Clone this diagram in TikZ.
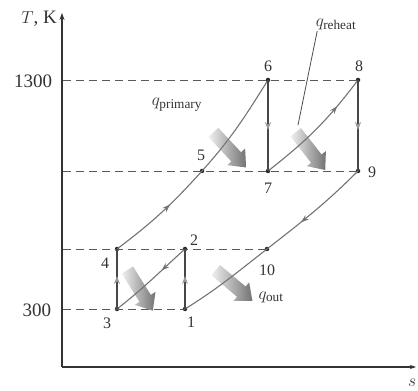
\documentclass[tikz,border=0pt]{standalone}
\usepackage{fontspec}
\setmainfont{Liberation Serif}
\usetikzlibrary{arrows.meta,decorations.markings,shapes.arrows}
\begin{document}
\begin{tikzpicture}[x=1pt,y=1pt,
 pt/.style={circle,fill=black!85,inner sep=0pt,minimum size=4.5pt},
 lbl/.style={font=\fontsize{16}{18}\selectfont,text=black!80},
 axl/.style={font=\fontsize{19}{21}\selectfont,text=black!80},
 dsh/.style={dash pattern=on 8pt off 5pt, draw=black!65, line width=0.8pt},
 proc/.style={draw=black!55, line width=1.1pt},
 vproc/.style={draw=black!72, line width=1.1pt},
 midarr/.style={postaction={decorate},decoration={markings,mark=at position #1 with {\arrow{Stealth[length=8pt,width=5.5pt]}}}},
 vmidarr/.style={postaction={decorate},decoration={markings,mark=at position #1 with {\arrow[black!40]{Stealth[length=8pt,width=6pt]}}}},
 bigarr/.style={single arrow, draw=none, minimum height=48pt, inner xsep=0pt, inner ysep=6.5pt, single arrow head extend=5.5pt, single arrow tip angle=80, left color=black!6, right color=black!55}
]
\useasboundingbox (0,0) rectangle (418,391);
% axes
\coordinate (O) at (62,24);
\coordinate (Ytop) at (62,378);
\coordinate (Xend) at (416,24);
\draw[line width=1.2pt, black!80, -{Stealth[length=7pt,width=5pt]}] (O) -- (Ytop);
\draw[line width=1.2pt, black!80, -{Stealth[length=6pt,width=4pt]}] (O) -- (Xend);
\node[axl] (lT) at (39,372) {$T$, K};
\node[axl] (ls) at (412,8) {$s$};
\node[axl] (l1300) at (33,310) {1300};
\node[axl] (l300) at (37,81) {300};
% axis anchors for dashed lines
\coordinate (a1) at (63,311);
\coordinate (a2) at (63,220);
\coordinate (a3) at (63,142);
\coordinate (a4) at (63,82);
% state points
\node[pt] (p1) at (185,82) {};
\node[pt] (p2) at (185,142) {};
\node[pt] (p3) at (117,82) {};
\node[pt] (p4) at (117,142) {};
\node[pt] (p5) at (202,220) {};
\node[pt] (p6) at (268,311) {};
\node[pt] (p7) at (268,220) {};
\node[pt] (p8) at (358,311) {};
\node[pt] (p9) at (358,220) {};
\node[pt] (p10) at (267,142) {};
% dashed lines
\draw[dsh] (a1) -- (p8.center);
\draw[dsh] (a2) -- (p9.center);
\draw[dsh] (a3) -- (p10.center);
\draw[dsh] (a4) -- (p1.center);
% big heat arrows
\node[bigarr, rotate=-47] (hp) at (227,244) {};
\node[bigarr, rotate=-52] (hr) at (308,243) {};
\node[bigarr, rotate=-58] (hl) at (138,104) {};
\node[bigarr, rotate=-40] (ho) at (231,108) {};
% processes
\draw[proc, midarr=0.6] (p4.center) to[out=37,in=228] (p5.center);
\draw[proc] (p5.center) to[out=48,in=238] (p6.center);
\draw[proc, midarr=0.74] (p7.center) to[out=38,in=233] (p8.center);
\draw[proc, midarr=0.64] (p9.center) to[out=225,in=38] (p10.center);
\draw[proc] (p10.center) to[out=218,in=32] (p1.center);
\draw[proc, midarr=0.35] (p2.center) to[out=222,in=38] (p3.center);
\draw[vproc, vmidarr=0.55] (p1.center) -- (p2.center);
\draw[vproc, vmidarr=0.55] (p3.center) -- (p4.center);
\draw[vproc, vmidarr=0.55] (p6.center) -- (p7.center);
\draw[vproc, vmidarr=0.55] (p8.center) -- (p9.center);
% point labels
\node[lbl] (n1) at (191,69) {1};
\node[lbl] (n2) at (194,151) {2};
\node[lbl] (n3) at (107,68) {3};
\node[lbl] (n4) at (105,128) {4};
\node[lbl] (n5) at (201,236) {5};
\node[lbl] (n6) at (268,325) {6};
\node[lbl] (n7) at (268,203) {7};
\node[lbl] (n8) at (359,325) {8};
\node[lbl] (n9) at (372,219) {9};
\node[lbl] (n10) at (267,121) {10};
% heat labels
\node[axl] (lqp) at (177,286) {$q_{\mathrm{primary}}$};
\node[axl] (lqr) at (336,367) {$q_{\mathrm{reheat}}$};
\node[axl] (lqo) at (271,94) {$q_{\mathrm{out}}$};
\coordinate (lead) at (298,266);
\draw[black!70, line width=0.8pt] ([xshift=5pt,yshift=2pt]lqr.south west) -- (lead);
\end{tikzpicture}
\end{document}
